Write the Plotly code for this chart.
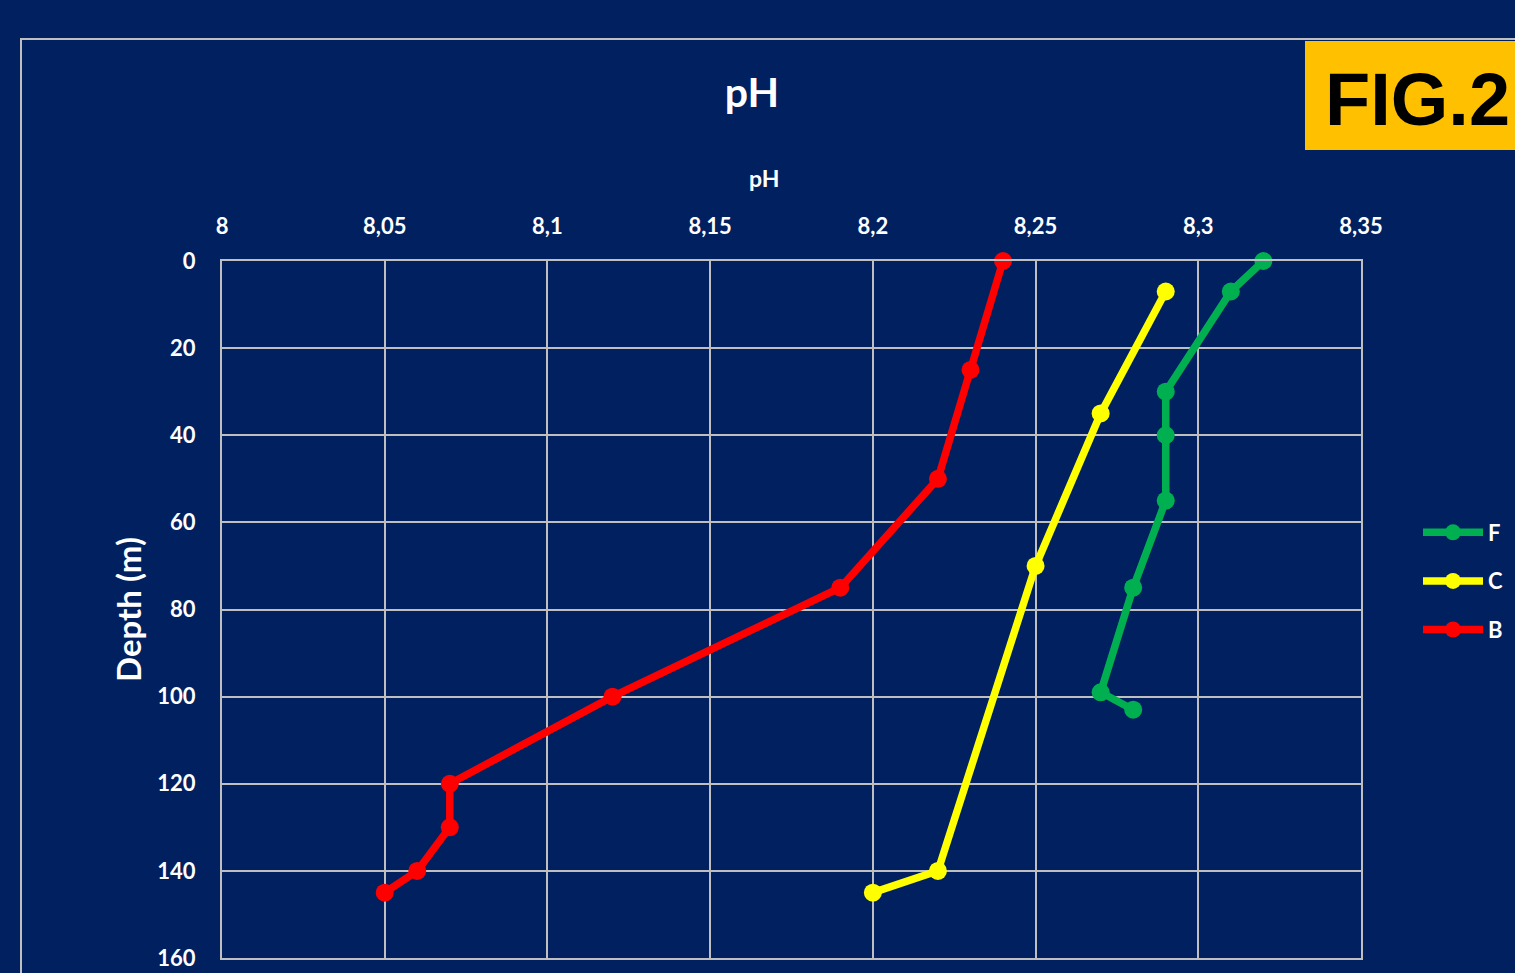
import plotly.graph_objects as go

# Data
b_ph = [8.24, 8.23, 8.22, 8.19, 8.12, 8.07, 8.07, 8.06, 8.05]
b_depth = [0, 25, 50, 75, 100, 120, 130, 140, 145]
c_ph = [8.29, 8.27, 8.25, 8.22, 8.20]
c_depth = [7, 35, 70, 140, 145]
f_ph = [8.32, 8.31, 8.29, 8.29, 8.29, 8.28, 8.27, 8.28]
f_depth = [0, 7, 30, 40, 55, 75, 99, 103]

x_ticks = [8, 8.05, 8.1, 8.15, 8.2, 8.25, 8.3, 8.35]
x_ticktext = ["8", "8,05", "8,1", "8,15", "8,2", "8,25", "8,3", "8,35"]
y_ticks = [0, 20, 40, 60, 80, 100, 120, 140, 160]

BG = "#002060"
GRID = "#BFBFBF"
FONT = "Lato"

fig = go.Figure()
for name, xs, ys, col, rank in [("B", b_ph, b_depth, "#FF0000", 3),
                                ("C", c_ph, c_depth, "#FFFF00", 2),
                                ("F", f_ph, f_depth, "#00B050", 1)]:
    fig.add_trace(go.Scatter(x=xs, y=ys, name=name, mode="lines+markers",
                             legendgroup=name, legendrank=rank,
                             line=dict(color=col, width=7.5),
                             marker=dict(color=col, size=18),
                             cliponaxis=False))

tick_font = dict(size=22, color="white", family=FONT, weight="bold")

fig.update_layout(
    width=1515, height=973,
    paper_bgcolor=BG, plot_bgcolor=BG,
    margin=dict(l=222, r=154, t=261, b=15, autoexpand=False),
    font=dict(family=FONT, color="white"),
    title=dict(text="<b>pH</b>", x=752 / 1515, xanchor="center",
               y=1 - 93 / 973, yanchor="middle",
               font=dict(size=41, color="white", family=FONT)),
    showlegend=True,
    legend=dict(traceorder="grouped", xref="container", yref="container",
                x=1418 / 1515, xanchor="left", y=1 - 581 / 973, yanchor="middle",
                font=dict(size=22, color="white", family=FONT, weight="bold"),
                itemwidth=60, tracegroupgap=17, bgcolor="rgba(0,0,0,0)"),
    xaxis=dict(side="top", range=[8, 8.35], tickvals=x_ticks, ticktext=x_ticktext,
               automargin=False,
               showgrid=True, gridcolor=GRID, gridwidth=2,
               showline=True, linecolor=GRID, linewidth=2, mirror=True,
               zeroline=False, ticks="", ticklabelstandoff=16,
               tickfont=tick_font),
    yaxis=dict(range=[160, 0], tickvals=y_ticks, automargin=False,
               showgrid=True, gridcolor=GRID, gridwidth=2,
               showline=True, linecolor=GRID, linewidth=2, mirror=True,
               zeroline=False, ticks="", ticklabelstandoff=20,
               tickfont=tick_font,
               title=dict(text="<b>Depth (m)</b>", standoff=6,
                          font=dict(size=33, color="white", family=FONT))),
)

# x-axis title (offset left as in the original)
fig.add_annotation(xref="paper", yref="paper", x=(764 - 222) / 1139, y=(958 - 178) / 697,
                   xanchor="center", yanchor="middle", showarrow=False,
                   text="<b>pH</b>", font=dict(size=23, color="white", family=FONT))

# Outer border frame and FIG.2 label (pixel positions converted to paper coords)
pw, ph = 1139, 697
def px_x(p):
    return (p - 222) / pw
def px_y(p):
    return (958 - p) / ph

fig.add_shape(type="rect", xref="paper", yref="paper",
              x0=px_x(21), x1=px_x(1600), y0=px_y(1100), y1=px_y(39),
              line=dict(color="#BFBFBF", width=2), fillcolor="rgba(0,0,0,0)", layer="below")
fig.add_shape(type="rect", xref="paper", yref="paper",
              x0=px_x(1305), x1=px_x(1600), y0=px_y(150), y1=px_y(41),
              line=dict(width=0), fillcolor="#FFC000", layer="above")
fig.add_annotation(xref="paper", yref="paper", x=px_x(1323), y=px_y(99),
                   xanchor="left", yanchor="middle", showarrow=False,
                   text="<b>FIG.2</b>",
                   font=dict(family="Liberation Sans", size=74, color="black"))

fig.write_html("out.html", config={"displayModeBar": False},
               post_script="document.body.style.margin='0';")
